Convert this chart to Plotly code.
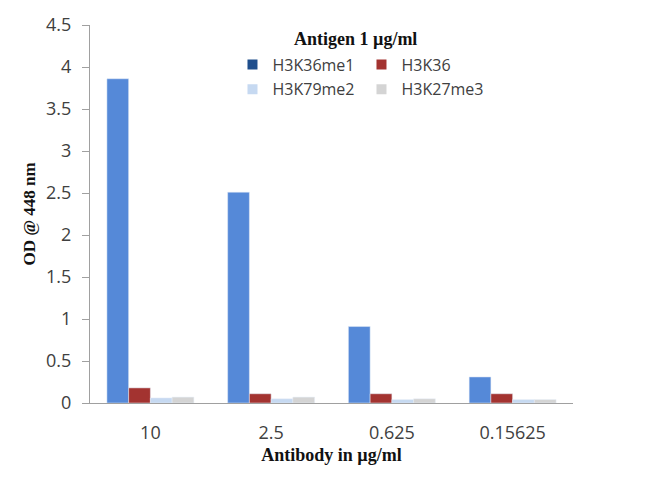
import plotly.graph_objects as go

categories = ["10", "2.5", "0.625", "0.15625"]
series_names = ["H3K36me1", "H3K36", "H3K79me2", "H3K27me3"]
h3k36me1 = [3.86, 2.51, 0.91, 0.31]
h3k36 = [0.18, 0.11, 0.11, 0.11]
h3k79me2 = [0.06, 0.05, 0.04, 0.04]
h3k27me3 = [0.07, 0.07, 0.05, 0.04]
values = [h3k36me1, h3k36, h3k79me2, h3k27me3]

bar_colors = ["#5589D8", "#A33330", "#C6D9F1", "#D4D4D4"]
legend_colors = ["#1F4E8C", "#A33330", "#C6D9F1", "#D4D4D4"]

fig = go.Figure()
for name, vals, col in zip(series_names, values, bar_colors):
    fig.add_trace(go.Bar(x=categories, y=vals, name=name, marker_color=col,
                         showlegend=False))
for i, (name, col) in enumerate(zip(series_names, legend_colors)):
    fig.add_trace(go.Scatter(x=[None], y=[None], name=name, mode="markers",
                             marker=dict(symbol="square", size=10, color=col),
                             legend="legend" if i < 2 else "legend2"))

leg_common = dict(orientation="h", font=dict(family="Open Sans, Arial", size=16, color="#404040"),
                  bgcolor="rgba(0,0,0,0)", entrywidth=84, entrywidthmode="pixels",
                  itemwidth=30, tracegroupgap=0, xanchor="left", yanchor="middle",
                  traceorder="normal")

serif = "Liberation Serif, Times New Roman"
fig.update_layout(
    width=650, height=478,
    margin=dict(l=90, r=77, t=19, b=75),
    paper_bgcolor="white", plot_bgcolor="white",
    barmode="group", bargap=0.28, bargroupgap=0,
    showlegend=True,
    legend=dict(x=0.295, y=0.895, **leg_common),
    legend2=dict(x=0.295, y=0.83, **leg_common),
    xaxis=dict(showline=True, linecolor="#A0A0A0", linewidth=1, ticks="",
               ticklabelstandoff=13,
               tickfont=dict(family="Open Sans, Arial", size=18, color="#404040"),
               title=dict(text="<b>Antibody in µg/ml</b>",
                          font=dict(family=serif, size=18, color="#111111"),
                          standoff=5)),
    yaxis=dict(range=[0, 4.5], dtick=0.5, showgrid=False, zeroline=False,
               showline=True, linecolor="#A0A0A0", linewidth=1,
               ticks="outside", ticklen=7, tickcolor="#A0A0A0",
               ticklabelstandoff=7,
               tickfont=dict(family="Open Sans, Arial", size=18, color="#404040"),
               title=dict(text="<b>OD @ 448 nm</b>",
                          font=dict(family=serif, size=17, color="#111111"),
                          standoff=6)),
    annotations=[dict(text="<b>Antigen 1 µg/ml</b>", x=0.549, y=0.963, xref="paper", yref="paper",
                      showarrow=False, xanchor="center", yanchor="middle",
                      font=dict(family=serif, size=18, color="#111111"))],
)

fig.write_html("out.html")
